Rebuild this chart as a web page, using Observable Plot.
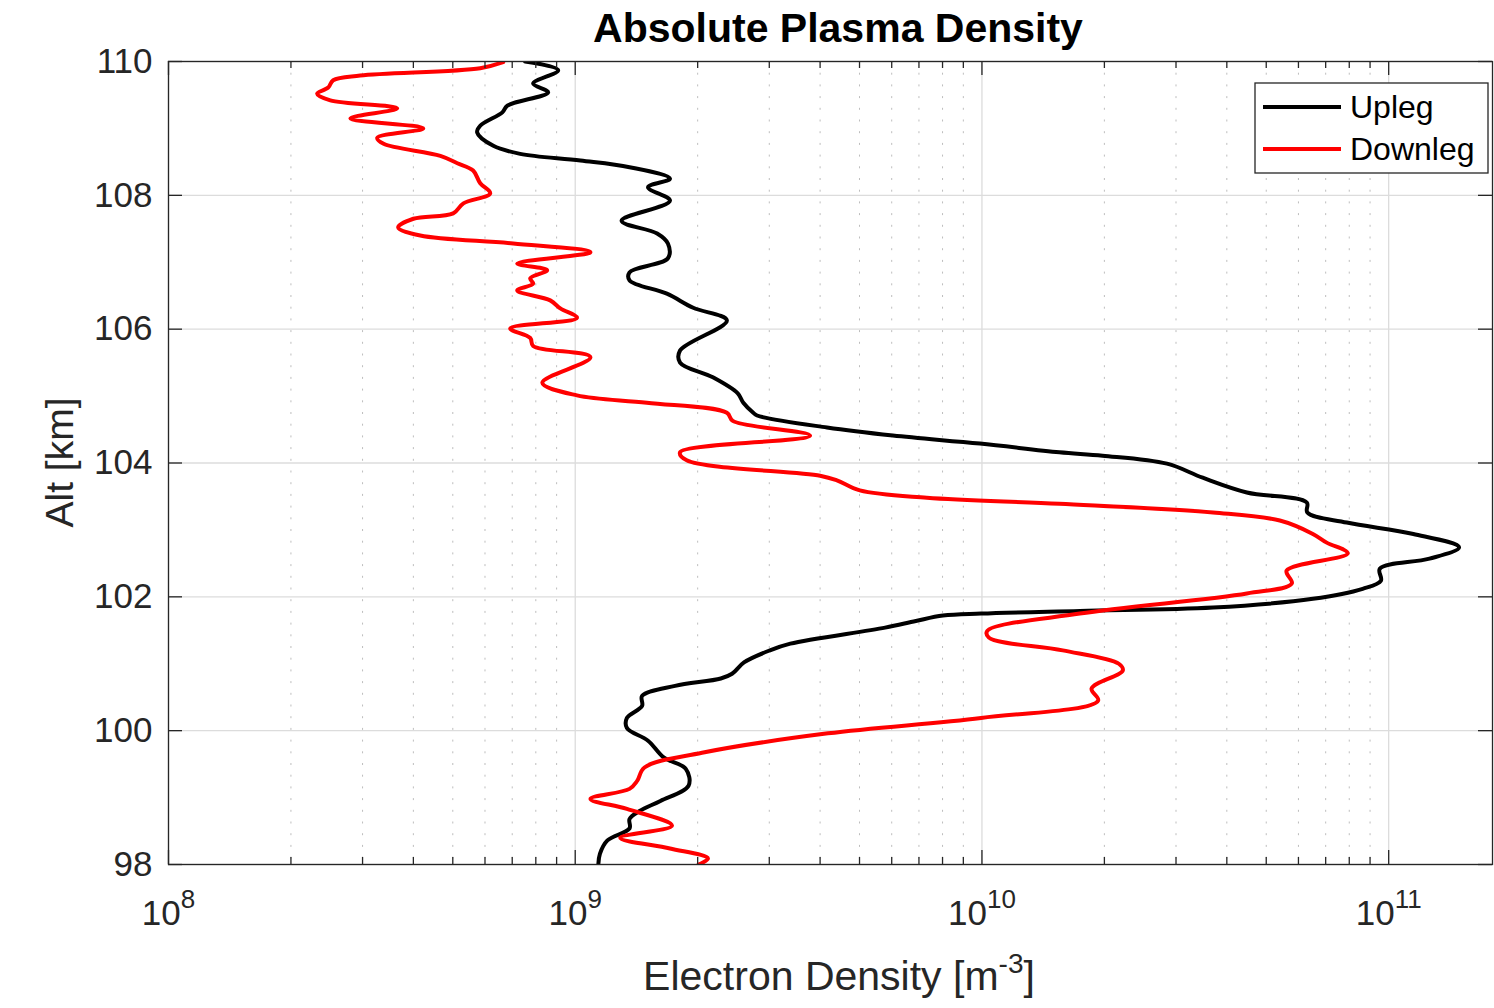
<!DOCTYPE html>
<html>
<head>
<meta charset="utf-8">
<script src="https://cdn.jsdelivr.net/npm/d3@7"></script>
<script src="https://cdn.jsdelivr.net/npm/@observablehq/plot@0.6"></script>
<style>
  html, body { margin: 0; padding: 0; background: #fff; }
  #wrap { width: 1494px; }
  #title {
    width: 1494px; box-sizing: border-box; padding-left: 182px;
    height: 50px; padding-top: 5px; line-height: 45px;
    text-align: center; font: bold 41px "Liberation Sans", Arial, sans-serif; color: #000;
  }
  svg { display: block; }
</style>
</head>
<body>
<div id="wrap">
  <div id="title">Absolute Plasma Density</div>
  <div id="chart"></div>
</div>
<script>
// ---- Data ----
const upAlt = [110.0, 109.87, 109.67, 109.54, 109.34, 109.24, 109.04, 108.94, 108.74, 108.62, 108.52, 108.42, 108.25, 108.12, 107.92, 107.62, 107.43, 107.28, 107.06, 106.85, 106.73, 106.53, 106.32, 106.13, 105.68, 105.50, 105.28, 105.04, 104.90, 104.75, 104.71, 104.53, 104.41, 104.29, 104.16, 104.11, 103.99, 103.78, 103.56, 103.41, 103.26, 103.11, 102.94, 102.74, 102.57, 102.42, 102.24, 102.12, 101.97, 101.84, 101.79, 101.75, 101.72, 101.64, 101.54, 101.30, 101.20, 101.02, 100.85, 100.78, 100.67, 100.52, 100.37, 100.19, 100.04, 99.85, 99.60, 99.43, 99.18, 98.95, 98.80, 98.68, 98.54, 98.36, 98.16, 98.01];
const upDensity = [7.53e8, 9.08e8, 7.88e8, 8.58e8, 6.81e8, 6.62e8, 5.84e8, 5.74e8, 6.29e8, 7.32e8, 1.03e9, 1.36e9, 1.71e9, 1.51e9, 1.71e9, 1.30e9, 1.59e9, 1.69e9, 1.69e9, 1.36e9, 1.36e9, 1.68e9, 1.95e9, 2.36e9, 1.81e9, 1.81e9, 2.18e9, 2.51e9, 2.59e9, 2.74e9, 2.80e9, 4.16e9, 6.04e9, 9.89e9, 1.55e10, 1.98e10, 2.85e10, 3.49e10, 4.48e10, 6.29e10, 6.31e10, 7.89e10, 1.15e11, 1.49e11, 1.26e11, 9.51e10, 9.57e10, 8.63e10, 6.51e10, 3.70e10, 1.74e10, 9.95e9, 8.02e9, 6.88e9, 5.78e9, 3.38e9, 3.01e9, 2.60e9, 2.43e9, 2.28e9, 1.76e9, 1.46e9, 1.46e9, 1.34e9, 1.34e9, 1.51e9, 1.65e9, 1.87e9, 1.90e9, 1.62e9, 1.44e9, 1.36e9, 1.36e9, 1.20e9, 1.15e9, 1.14e9];

const downAlt = [109.99, 109.90, 109.79, 109.72, 109.61, 109.52, 109.42, 109.30, 109.15, 109.00, 108.86, 108.77, 108.59, 108.48, 108.37, 108.18, 108.03, 107.88, 107.73, 107.65, 107.52, 107.40, 107.28, 107.15, 106.98, 106.88, 106.76, 106.68, 106.58, 106.43, 106.31, 106.17, 106.01, 105.87, 105.75, 105.58, 105.20, 105.01, 104.90, 104.75, 104.63, 104.41, 104.16, 104.04, 103.81, 103.74, 103.59, 103.48, 103.39, 103.26, 103.14, 102.94, 102.81, 102.65, 102.39, 102.20, 102.05, 101.75, 101.49, 101.39, 101.20, 101.00, 100.90, 100.63, 100.45, 100.19, 99.96, 99.67, 99.45, 99.25, 99.13, 98.98, 98.83, 98.58, 98.40, 98.24, 98.09, 98.00];
const downDensity = [6.65e8, 5.84e8, 2.96e8, 2.54e8, 2.47e8, 2.32e8, 2.50e8, 3.65e8, 2.80e8, 4.23e8, 3.26e8, 3.38e8, 4.66e8, 5.13e8, 5.61e8, 5.84e8, 6.18e8, 5.31e8, 5.01e8, 4.00e8, 3.67e8, 4.16e8, 7.04e8, 1.09e9, 7.20e8, 8.53e8, 7.75e8, 7.88e8, 7.20e8, 8.68e8, 9.19e8, 1.01e9, 6.92e8, 7.75e8, 7.88e8, 1.09e9, 8.30e8, 1.01e9, 1.50e9, 2.36e9, 2.44e9, 3.78e9, 1.81e9, 1.88e9, 4.00e9, 4.40e9, 5.01e9, 7.32e9, 1.55e10, 3.70e10, 5.40e10, 6.51e10, 7.04e10, 7.93e10, 5.61e10, 5.78e10, 4.48e10, 1.74e10, 1.03e10, 1.04e10, 1.58e10, 2.17e10, 2.22e10, 1.86e10, 1.93e10, 9.95e9, 4.18e9, 2.05e9, 1.48e9, 1.42e9, 1.36e9, 1.09e9, 1.34e9, 1.73e9, 1.29e9, 1.71e9, 2.12e9, 2.01e9];

const seriesNames = ["Upleg", "Downleg"];
const seriesColors = ["#000000", "#ff0000"];

const xMajorTicks = [1e8, 1e9, 1e10, 1e11];
const xMinorTicks = [2e8, 3e8, 4e8, 5e8, 6e8, 7e8, 8e8, 9e8, 2e9, 3e9, 4e9, 5e9, 6e9, 7e9, 8e9, 9e9, 2e10, 3e10, 4e10, 5e10, 6e10, 7e10, 8e10, 9e10];
const yTicks = [98, 100, 102, 104, 106, 108, 110];
const xDomain = [1e8, 1.8e11];
const yDomain = [98, 110];

// ---- Build tables ----
const upleg = upAlt.map((a, i) => ({alt: a, density: upDensity[i]}));
const downleg = downAlt.map((a, i) => ({alt: a, density: downDensity[i]}));

const W = 1494, H = 958, mt = 11, mb = 144, ml = 168, mr = 2;
const innerW = W - ml - mr, innerH = H - mt - mb;
const axisColor = "#262626";

const plot = Plot.plot({
  width: W, height: H,
  marginTop: mt, marginBottom: mb, marginLeft: ml, marginRight: mr,
  style: {fontFamily: "'Liberation Sans', Arial, sans-serif", fontSize: "35px", color: axisColor, background: "#fff", overflow: "visible"},
  x: {type: "log", domain: xDomain, label: null},
  y: {domain: yDomain, label: null},
  marks: [
    Plot.ruleX(xMinorTicks, {stroke: "#bdbdbd", strokeWidth: 1, strokeDasharray: "2,9.7"}),
    Plot.ruleX(xMajorTicks, {stroke: "#dcdcdc", strokeWidth: 1.3}),
    Plot.ruleY(yTicks, {stroke: "#dcdcdc", strokeWidth: 1.3}),
    Plot.line(upleg, {x: "density", y: "alt", stroke: seriesColors[0], strokeWidth: 4, curve: "catmull-rom", clip: true}),
    Plot.line(downleg, {x: "density", y: "alt", stroke: seriesColors[1], strokeWidth: 4, curve: "catmull-rom", clip: true}),
    Plot.frame({stroke: axisColor, strokeWidth: 1.3}),
    // inward ticks (bottom & top, left & right)
    Plot.tickX(xMajorTicks, {x: d => d, insetTop: innerH - 14, stroke: axisColor, strokeWidth: 1.3}),
    Plot.tickX(xMajorTicks, {x: d => d, insetBottom: innerH - 14, stroke: axisColor, strokeWidth: 1.3}),
    Plot.tickX(xMinorTicks, {x: d => d, insetTop: innerH - 7, stroke: axisColor, strokeWidth: 1.3}),
    Plot.tickX(xMinorTicks, {x: d => d, insetBottom: innerH - 7, stroke: axisColor, strokeWidth: 1.3}),
    Plot.tickY(yTicks, {y: d => d, insetRight: innerW - 14, stroke: axisColor, strokeWidth: 1.3}),
    Plot.tickY(yTicks, {y: d => d, insetLeft: innerW - 14, stroke: axisColor, strokeWidth: 1.3}),
    Plot.axisX(xMajorTicks, {tickSize: 0, tickPadding: 36, label: null, fontSize: 35,
      tickFormat: d => "10^" + Math.round(Math.log10(d))}),
    Plot.axisY(yTicks, {tickSize: 0, tickPadding: 16, label: null, fontSize: 35, tickFormat: d => String(d)})
  ]
});

document.getElementById("chart").appendChild(plot);
const svg = d3.select(plot);

// superscript exponents on x tick labels
svg.selectAll('g[aria-label="x-axis tick label"] text').each(function() {
  const t = d3.select(this);
  const s = t.text();
  if (!s.includes("^")) return;
  const [base, exp] = s.split("^");
  t.text(null);
  t.append("tspan").text(base);
  t.append("tspan").attr("dy", -17).attr("font-size", 26).text(exp);
});

// axis labels
svg.append("text")
  .attr("transform", `translate(73, ${mt + innerH / 2}) rotate(-90)`)
  .attr("text-anchor", "middle")
  .attr("fill", axisColor)
  .attr("font-size", 39)
  .text("Alt [km]");

const xl = svg.append("text")
  .attr("x", 839).attr("y", 940)
  .attr("text-anchor", "middle")
  .attr("fill", axisColor)
  .attr("font-size", 41);
xl.append("tspan").text("Electron Density [m");
xl.append("tspan").attr("dy", -17).attr("font-size", 28).text("-3");
xl.append("tspan").attr("dy", 17).text("]");

// legend
const lg = svg.append("g");
lg.append("rect").attr("x", 1255).attr("y", 33).attr("width", 233).attr("height", 90)
  .attr("fill", "#fff").attr("stroke", axisColor).attr("stroke-width", 1.3);
seriesNames.forEach((name, i) => {
  const y = 57 + i * 42;
  lg.append("line").attr("x1", 1263).attr("x2", 1341).attr("y1", y).attr("y2", y)
    .attr("stroke", seriesColors[i]).attr("stroke-width", 4);
  lg.append("text").attr("x", 1350).attr("y", y).attr("dy", "0.35em")
    .attr("text-anchor", "start")
    .attr("font-size", 32).attr("fill", "#000").text(name);
});
</script>
</body>
</html>
